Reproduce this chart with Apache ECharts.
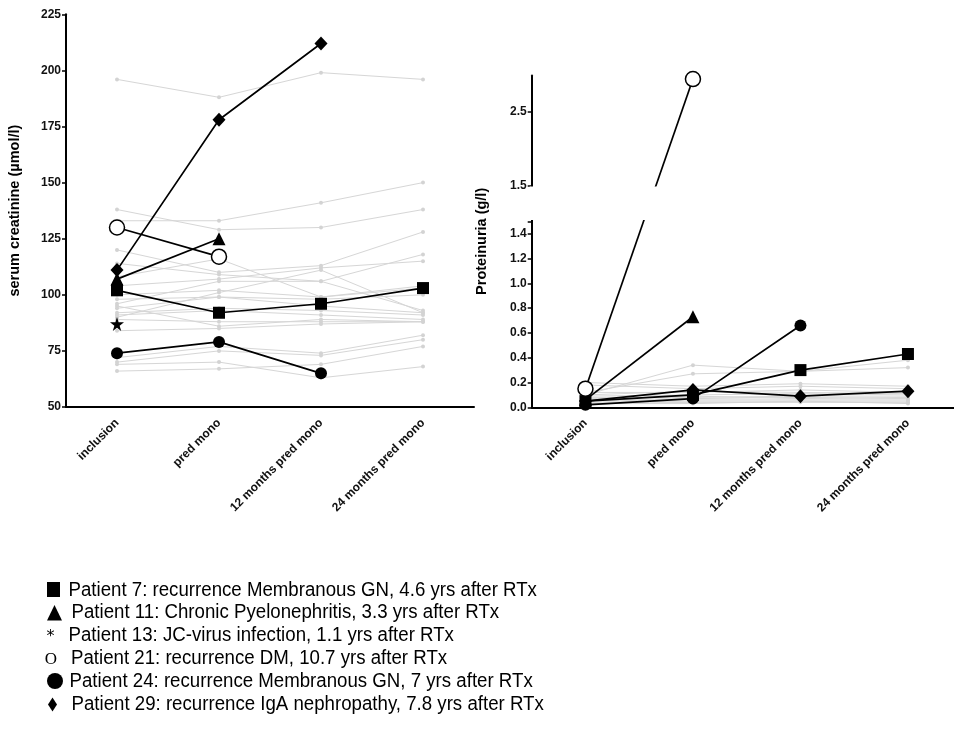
<!DOCTYPE html>
<html>
<head>
<meta charset="utf-8">
<script src="https://cdn.jsdelivr.net/npm/echarts@6/dist/echarts.min.js"></script>
<style>
  html, body { margin: 0; padding: 0; background: #fff; }
  #chart { width: 954px; height: 739px; }
</style>
</head>
<body>
<div id="chart"></div>
<script>
// Time points
const categories = ['inclusion', 'pred mono', '12 months pred mono', '24 months pred mono'];

// Serum creatinine (µmol/l), highlighted patients
const creatP7  = [102, 92, 96, 103];
const creatP11 = [107, 125, null, null];
const creatP13 = [87, null, null, null];
const creatP21 = [130, 117, null, null];
const creatP24 = [74, 79, 65, null];
const creatP29 = [111, 178, 212, null];

// Serum creatinine, remaining patients
const creatOthers = [
  [196, 188, 199, 196],
  [138, 129, 130, 138],
  [133, 133, 141, 150],
  [120, 110, 113, 128],
  [114, 109, 106, 118],
  [104, 107, 112, 115],
  [100, 102, 99, 103],
  [98, 99, 98, 100],
  [96, 106, 106, 93],
  [94, 99, 95, 92],
  [92, 94, 93, 91],
  [91, 93, 91, 89],
  [89, 88, 88, 88],
  [84, 85, 87, 88],
  [90, 101, 111, 92],
  [108, 116, 99, 104],
  [72, 77, 74, 82],
  [70, 75, 73, 80],
  [66, 67, 69, 77],
  [69, 70, 63, 68],
  [95, 86, 89, 88]
];

// Proteinuria (g/l), highlighted patients
const protP7  = [0.05, 0.10, 0.30, 0.43];
const protP11 = [0.06, 0.73, null, null];
const protP13 = [0.04, null, null, null];
const protP21 = [0.15, 2.95, null, null];
const protP24 = [0.02, 0.07, 0.66, null];
const protP29 = [0.05, 0.14, 0.09, 0.13];

// Proteinuria, remaining patients
const protOthers = [
  [0.10, 0.34, 0.29, 0.32],
  [0.12, 0.27, 0.29, 0.38],
  [0.20, 0.17, 0.19, 0.17],
  [0.18, 0.15, 0.17, 0.15],
  [0.12, 0.12, 0.14, 0.12],
  [0.09, 0.10, 0.11, 0.10],
  [0.08, 0.08, 0.09, 0.09],
  [0.06, 0.07, 0.08, 0.07],
  [0.05, 0.06, 0.06, 0.06],
  [0.04, 0.05, 0.05, 0.05],
  [0.03, 0.04, 0.04, 0.04],
  [0.07, 0.09, 0.07, 0.08],
  [0.10, 0.13, 0.12, 0.11],
  [0.03, 0.03, 0.05, 0.03]
];

// Axis ticks
const creatMin = 50, creatMax = 225, creatStep = 25;
const protLowerTicks = [0, 0.2, 0.4, 0.6, 0.8, 1.0, 1.2, 1.4];
const protUpperTicks = [1.5, 2.5];
const protBreak = 1.5, protTop = 3.0;

// Legend text
const legendLabels = [
  'Patient 7: recurrence Membranous GN, 4.6 yrs after RTx',
  'Patient 11: Chronic Pyelonephritis, 3.3 yrs after RTx',
  'Patient 13: JC-virus infection, 1.1 yrs after RTx',
  'Patient 21: recurrence DM, 10.7 yrs after RTx',
  'Patient 24: recurrence Membranous GN, 7 yrs after RTx',
  'Patient 29: recurrence IgA nephropathy, 7.8 yrs after RTx'
];

// Broken proteinuria axis: the upper segment starts after a gap and is compressed
const GAP = 0.29;       // empty band between the two segments (axis units)
const UPPER_K = 0.591;  // upper segment scale relative to lower
const upperPos = v => protBreak + GAP + (v - protBreak) * UPPER_K;
const toAxis = v => v == null ? null : (v <= protBreak ? v : upperPos(v));

const FONT = 'Liberation Sans, Arial, Helvetica, sans-serif';
const STAR = 'path://M50,0 L61,35 L98,35 L68,57 L79,91 L50,70 L21,91 L32,57 L2,35 L39,35 Z';

const labelMap = [];
protLowerTicks.forEach(v => labelMap.push({ d: v, t: v.toFixed(1) }));
protUpperTicks.forEach(v => labelMap.push({ d: upperPos(v), t: v.toFixed(1) }));
const protLabelValues = labelMap.map(o => o.d);
const protTickValues = protLabelValues.concat([protBreak]);

function xAxisCfg(gridIndex) {
  return {
    type: 'category', gridIndex, data: categories, boundaryGap: true,
    axisLine: { lineStyle: { color: '#000', width: 2 } },
    axisTick: { alignWithLabel: true, length: 4, lineStyle: { color: '#000', width: 1.5 } },
    axisLabel: { rotate: 45, margin: 14, color: '#111', fontFamily: FONT, fontWeight: 'bold', fontSize: 12, interval: 0 },
    splitLine: { show: false }
  };
}

const grayLine = { color: '#d6d6d6', width: 1 };
const grayItem = { color: '#d3d3d3' };

const series = [];
function addGray(rows, xi, yi, map) {
  rows.forEach(r => series.push({
    type: 'line', xAxisIndex: xi, yAxisIndex: yi, data: r.map(map),
    symbol: 'circle', symbolSize: 4, lineStyle: grayLine, itemStyle: grayItem,
    silent: true, z: 2, animation: false
  }));
}
function addBlack(data, xi, yi, symbol, size, open, map) {
  series.push({
    type: 'line', xAxisIndex: xi, yAxisIndex: yi, data: data.map(map),
    symbol, symbolSize: size, connectNulls: false,
    lineStyle: { color: '#000', width: 1.7 },
    itemStyle: open ? { color: '#fff', borderColor: '#000', borderWidth: 1.5 } : { color: '#000' },
    z: 5, animation: false
  });
}
const ident = v => v;

addGray(creatOthers, 0, 0, ident);
addGray(protOthers, 1, 1, toAxis);

addBlack(creatP24, 0, 0, 'circle', 12, false, ident);
addBlack(creatP7, 0, 0, 'rect', 12, false, ident);
addBlack(creatP11, 0, 0, 'triangle', 13, false, ident);
addBlack(creatP13, 0, 0, STAR, 14, false, ident);
addBlack(creatP29, 0, 0, 'diamond', [13, 14], false, ident);
addBlack(creatP21, 0, 0, 'circle', 15, true, ident);

addBlack(protP7, 1, 1, 'rect', 12, false, toAxis);
addBlack(protP11, 1, 1, 'triangle', 13, false, toAxis);
addBlack(protP13, 1, 1, STAR, 13, false, toAxis);
addBlack(protP24, 1, 1, 'circle', 12, false, toAxis);
addBlack(protP29, 1, 1, 'diamond', [13, 14], false, toAxis);
addBlack(protP21, 1, 1, 'circle', 15, true, toAxis);

const chart = echarts.init(document.getElementById('chart'), null, { renderer: 'canvas' });

const yName = { fontFamily: FONT, fontWeight: 'bold', fontSize: 14.5, color: '#000' };
const yLabel = { margin: 5, color: '#111', fontFamily: FONT, fontWeight: 'bold', fontSize: 12 };

const option = {
  backgroundColor: '#fff',
  animation: false,
  textStyle: { fontFamily: FONT },
  grid: [
    { left: 66, top: 14.3, width: 408, height: 392.7, outerBoundsMode: 'none' },
    { left: 531.7, top: 75.4, width: 430, height: 331.9, outerBoundsMode: 'none' }
  ],
  xAxis: [xAxisCfg(0), xAxisCfg(1)],
  yAxis: [
    {
      type: 'value', gridIndex: 0, min: creatMin, max: creatMax, interval: creatStep,
      name: 'serum creatinine (µmol/l)', nameLocation: 'middle', nameGap: 44,
      nameTextStyle: yName,
      axisLine: { show: true, lineStyle: { color: '#000', width: 2 } },
      axisTick: { show: true, length: 4, lineStyle: { color: '#000', width: 1.5 } },
      axisLabel: yLabel,
      splitLine: { show: false }
    },
    {
      type: 'value', gridIndex: 1, min: 0, max: upperPos(protTop),
      name: 'Proteinuria (g/l)', nameLocation: 'middle', nameGap: 42,
      nameTextStyle: yName,
      axisLine: { show: true, lineStyle: { color: '#000', width: 2 } },
      axisTick: { show: true, length: 4, customValues: protTickValues, lineStyle: { color: '#000', width: 1.5 } },
      axisLabel: Object.assign({}, yLabel, {
        customValues: protLabelValues,
        formatter: val => {
          let best = labelMap[0];
          labelMap.forEach(o => { if (Math.abs(o.d - val) < Math.abs(best.d - val)) best = o; });
          return best.t;
        }
      }),
      splitLine: { show: false }
    }
  ],
  series
};
chart.setOption(option);

// Blank band that separates the two proteinuria axis segments
const pLow = chart.convertToPixel({ xAxisIndex: 1, yAxisIndex: 1 }, [0, protBreak]);
const pHigh = chart.convertToPixel({ xAxisIndex: 1, yAxisIndex: 1 }, [0, upperPos(protBreak)]);
const gridRect = chart.getModel().getComponent('grid', 1).coordinateSystem.getRect();

const graphics = [{
  type: 'rect', z: 100,
  shape: { x: gridRect.x - 2, y: pHigh[1] + 1.2, width: gridRect.width, height: pLow[1] - pHigh[1] - 2.4 },
  style: { fill: '#fff' }
}];

// Legend block
const LX = 47, LY0 = 590, LDY = 22.8;
const txt = (i, x) => ({
  type: 'text', x, y: LY0 + i * LDY, scaleX: 0.933,
  style: { text: legendLabels[i], font: '20px "Liberation Sans", Arial, sans-serif', fill: '#000', verticalAlign: 'middle' }
});
graphics.push({ type: 'rect', shape: { x: LX, y: 582, width: 13, height: 15 }, style: { fill: '#000' } });
graphics.push(txt(0, 68.5));
graphics.push({ type: 'polygon', shape: { points: [[LX, 620.5], [LX + 15, 620.5], [LX + 7.5, 605]] }, style: { fill: '#000' } });
graphics.push(txt(1, 71.5));
graphics.push({ type: 'text', x: 50.5, y: 637, style: { text: '*', font: '16px "DejaVu Sans", sans-serif', fill: '#000', align: 'center', verticalAlign: 'middle' } });
graphics.push(txt(2, 68.5));
graphics.push({ type: 'text', x: 51, y: 659.5, style: { text: 'O', font: '17px "Liberation Serif", "Times New Roman", serif', fill: '#000', align: 'center', verticalAlign: 'middle' } });
graphics.push(txt(3, 71));
graphics.push({ type: 'circle', shape: { cx: 55, cy: 681, r: 8 }, style: { fill: '#000' } });
graphics.push(txt(4, 69.5));
graphics.push({ type: 'polygon', shape: { points: [[52.5, 697.5], [57, 704.5], [52.5, 711.5], [48, 704.5]] }, style: { fill: '#000' } });
graphics.push(txt(5, 71.5));

chart.setOption({ graphic: graphics });
</script>
</body>
</html>
